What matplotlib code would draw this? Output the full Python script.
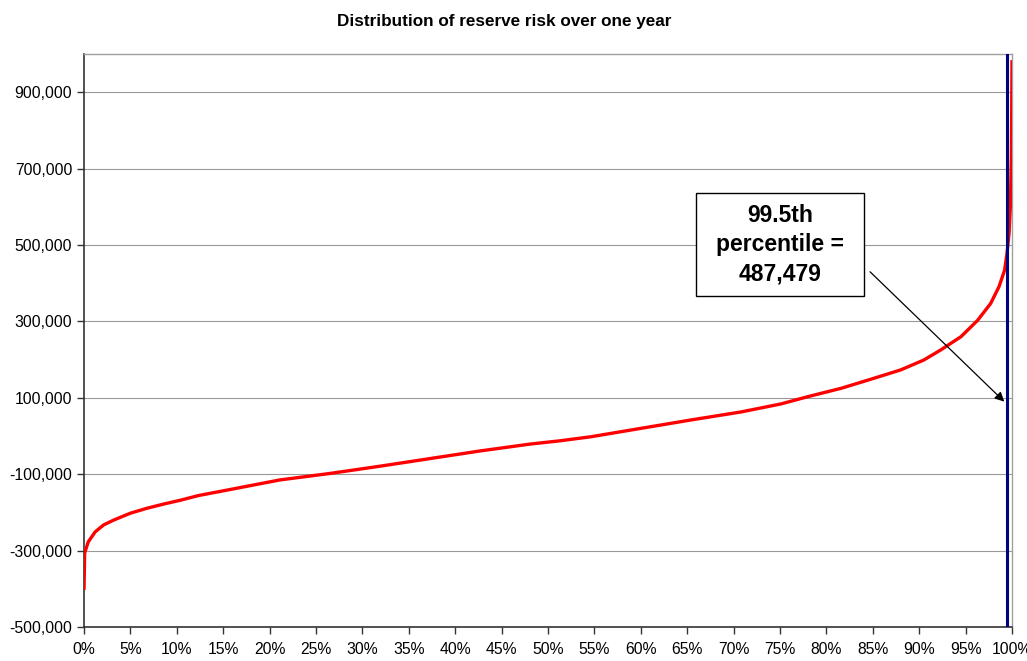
import matplotlib
matplotlib.use("Agg")
import matplotlib.pyplot as plt
from matplotlib.patches import Rectangle
from matplotlib.ticker import FuncFormatter, MultipleLocator

plt.rcParams['font.family'] = ['Liberation Sans', 'DejaVu Sans']

# percentile of the simulated distribution (0..1) and reserve result
pct = [0.0, 0.0007, 0.0046, 0.012, 0.021, 0.032, 0.050, 0.068, 0.086, 0.104,
       0.123, 0.1575, 0.211, 0.265, 0.319, 0.373, 0.427, 0.481, 0.513, 0.546,
       0.600, 0.654, 0.708, 0.751, 0.780, 0.816, 0.851, 0.880, 0.905, 0.923,
       0.945, 0.963, 0.977, 0.986, 0.992, 0.9946, 0.9968, 0.9982, 0.9993,
       0.9997, 1.0]
reserve = [-403000, -306000, -277000, -251000, -233000, -220000, -202000,
           -189000, -178000, -168000, -156000, -140000, -115000, -98000,
           -79000, -59000, -39000, -21000, -12500, -2000, 20000, 42000,
           63000, 84000, 103000, 125000, 151000, 173000, 199000, 225000,
           260000, 303000, 347000, 391000, 434000, 478000, 530000, 600000,
           731000, 862000, 984000]

var_pct = 0.995
var_value = 487479
arrow_from = (0.847, 430000)
arrow_to = (0.9917, 90000)

fig = plt.figure(figsize=(10.27, 6.61), dpi=100)
ax = fig.add_axes([0.0818, 0.0514, 0.9036, 0.8669])

ax.plot(pct, reserve, color='#ff0000', lw=2.4, zorder=3,
        solid_capstyle='butt', solid_joinstyle='round')
ax.axvline(var_pct, color='#000080', lw=2.2, zorder=4)

ax.set_xlim(0, 1)
ax.set_ylim(-500000, 1000000)
ax.xaxis.set_major_locator(MultipleLocator(0.05))
ax.xaxis.set_major_formatter(FuncFormatter(lambda v, p: "%d%%" % round(v * 100)))
ax.set_yticks(range(-500000, 1000001, 200000))
ax.yaxis.set_major_formatter(FuncFormatter(lambda v, p: "{:,.0f}".format(v)))
ax.tick_params(axis='both', direction='out', length=5, width=1, color='#333333',
               labelsize=11.3, labelcolor='black')
ax.tick_params(axis='x', pad=6)
ax.tick_params(axis='y', pad=3.5)
ax.grid(axis='y', color='#999999', lw=0.8)
ax.set_axisbelow(True)

for s in ['left', 'bottom']:
    ax.spines[s].set_color('#333333')
    ax.spines[s].set_linewidth(1.2)
for s in ['top', 'right']:
    ax.spines[s].set_color('#a0a0a0')
    ax.spines[s].set_linewidth(1.0)

# label box with arrow to the percentile line
ax.add_patch(Rectangle((0.660, 0.578), 0.181, 0.179, transform=ax.transAxes,
                       facecolor='white', edgecolor='black', lw=1, zorder=5))
ax.text(0.7505, 0.667, "99.5th\npercentile =\n{:,}".format(var_value),
        transform=ax.transAxes, ha='center', va='center', fontsize=16.5,
        fontweight='bold', linespacing=1.37, zorder=6)
ax.annotate("", xy=arrow_to, xytext=arrow_from,
            arrowprops=dict(arrowstyle='-|>', color='black', lw=0.9,
                            mutation_scale=14, shrinkA=0, shrinkB=0), zorder=6)

fig.text(0.491, 0.967, "Distribution of reserve risk over one year",
         ha='center', va='center', fontsize=12.3, fontweight='bold')

fig.savefig("out.png", dpi=100)
